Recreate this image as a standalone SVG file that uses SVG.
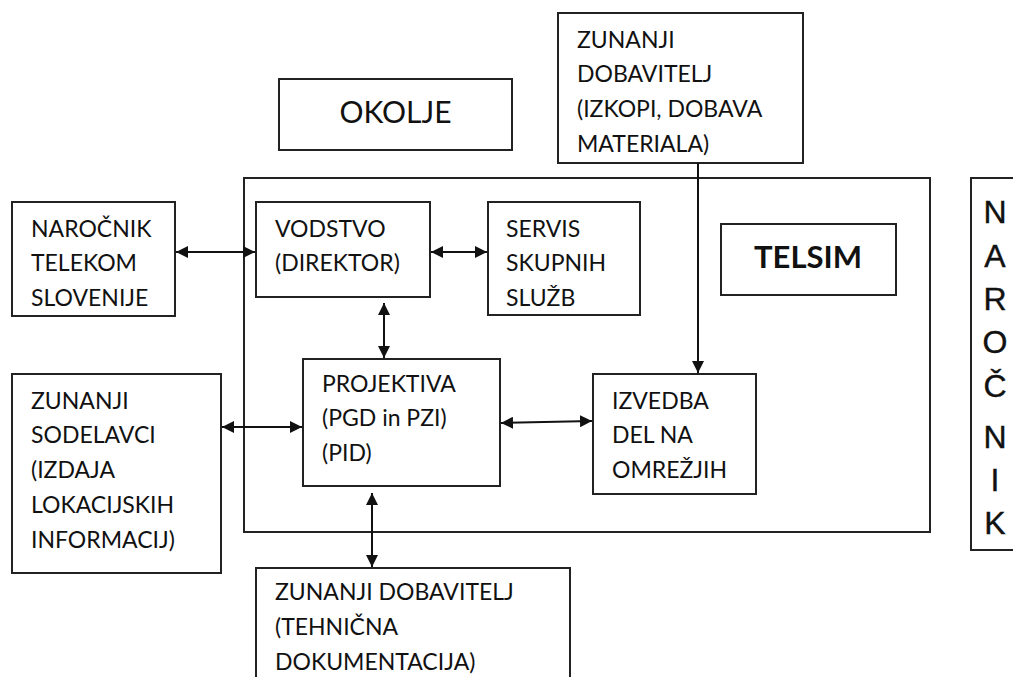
<svg xmlns="http://www.w3.org/2000/svg" width="1013" height="677" viewBox="0 0 1013 677">
<defs>
<style>
.box{fill:#fff;stroke:#222;stroke-width:2}
.frame{fill:none;stroke:#222;stroke-width:2}
.t{font-family:Lato,"Open Sans","Liberation Sans",sans-serif;font-size:23px;fill:#111}
.big{font-family:Lato,"Open Sans","Liberation Sans",sans-serif;font-size:30px;fill:#111}
.bold{font-family:Lato,"Liberation Sans",sans-serif;font-size:31px;font-weight:bold;fill:#111}
.v{font-family:"Liberation Sans",Arial,sans-serif;font-size:32px;fill:#111;stroke:#111;stroke-width:0.4}
.c{stroke:#111;stroke-width:2;fill:none}
</style>
<marker id="ah" viewBox="0 0 12 12" refX="12" refY="6" markerWidth="12" markerHeight="12" markerUnits="userSpaceOnUse" orient="auto-start-reverse">
<path d="M0,0 L12,6 L0,12 z" fill="#111"/>
</marker>
</defs>
<rect width="1013" height="677" fill="#fff"/>

<g id="telsim-frame">
<rect class="frame" x="244" y="178" width="686" height="354"/>
</g>

<g id="okolje">
<rect class="box" x="279" y="79" width="233" height="71"/>
<text class="big" x="395.5" y="123" text-anchor="middle">OKOLJE</text>
</g>

<g id="zunanji-dobavitelji-izkopi">
<rect class="box" x="558" y="13" width="245" height="150"/>
<text class="t" x="577" y="48">ZUNANJI</text>
<text class="t" x="577" y="82">DOBAVITELJ</text>
<text class="t" x="577" y="117">(IZKOPI, DOBAVA</text>
<text class="t" x="577" y="152">MATERIALA)</text>
</g>

<g id="narocnik-telekom">
<rect class="box" x="12" y="202" width="163" height="114"/>
<text class="t" x="31" y="237">NAROČNIK</text>
<text class="t" x="31" y="271">TELEKOM</text>
<text class="t" x="31" y="306">SLOVENIJE</text>
</g>

<g id="vodstvo">
<rect class="box" x="256" y="202" width="174" height="95"/>
<text class="t" x="275" y="237">VODSTVO</text>
<text class="t" x="275" y="271">(DIREKTOR)</text>
</g>

<g id="servis">
<rect class="box" x="488" y="202" width="152" height="113"/>
<text class="t" x="506" y="237">SERVIS</text>
<text class="t" x="506" y="271">SKUPNIH</text>
<text class="t" x="506" y="306">SLUŽB</text>
</g>

<g id="telsim">
<rect class="box" x="721" y="224" width="175" height="71"/>
<text class="bold" x="808" y="268" text-anchor="middle">TELSIM</text>
</g>

<g id="narocnik-vertical">
<rect class="box" x="971" y="178" width="60" height="372"/>
<g class="v" text-anchor="middle">
<text x="995" y="223">N</text>
<text x="995" y="267">A</text>
<text x="995" y="310">R</text>
<text x="995" y="353">O</text>
<text x="995" y="397">Č</text>
<text x="995" y="448">N</text>
<text x="995" y="491">I</text>
<text x="995" y="534">K</text>
</g>
</g>

<g id="zunanji-sodelavci">
<rect class="box" x="12" y="374" width="209" height="199"/>
<text class="t" x="31" y="409">ZUNANJI</text>
<text class="t" x="31" y="443">SODELAVCI</text>
<text class="t" x="31" y="478">(IZDAJA</text>
<text class="t" x="31" y="513">LOKACIJSKIH</text>
<text class="t" x="31" y="548">INFORMACIJ)</text>
</g>

<g id="projektiva">
<rect class="box" x="303" y="359" width="197" height="127"/>
<text class="t" x="322" y="392">PROJEKTIVA</text>
<text class="t" x="322" y="426">(PGD in PZI)</text>
<text class="t" x="322" y="461">(PID)</text>
</g>

<g id="izvedba">
<rect class="box" x="593" y="374" width="163" height="120"/>
<text class="t" x="612" y="409">IZVEDBA</text>
<text class="t" x="612" y="443">DEL NA</text>
<text class="t" x="612" y="478">OMREŽJIH</text>
</g>

<g id="zunanji-dobavitelji-tehnicna">
<rect class="box" x="256" y="568" width="314" height="120"/>
<text class="t" x="275" y="600">ZUNANJI DOBAVITELJ</text>
<text class="t" x="275" y="635">(TEHNIČNA</text>
<text class="t" x="275" y="670">DOKUMENTACIJA)</text>
</g>

<g id="connectors">
<line class="c" x1="176" y1="252" x2="255" y2="252" marker-start="url(#ah)" marker-end="url(#ah)"/>
<line class="c" x1="431" y1="252" x2="487" y2="252" marker-start="url(#ah)" marker-end="url(#ah)"/>
<line class="c" x1="384" y1="303" x2="384" y2="358" marker-start="url(#ah)" marker-end="url(#ah)"/>
<line class="c" x1="222" y1="427" x2="302" y2="427" marker-start="url(#ah)" marker-end="url(#ah)"/>
<line class="c" x1="501" y1="423" x2="592" y2="421" marker-start="url(#ah)" marker-end="url(#ah)"/>
<line class="c" x1="372" y1="493" x2="372" y2="567" marker-start="url(#ah)" marker-end="url(#ah)"/>
<line class="c" x1="698" y1="163" x2="698" y2="373" marker-end="url(#ah)"/>
</g>
</svg>
